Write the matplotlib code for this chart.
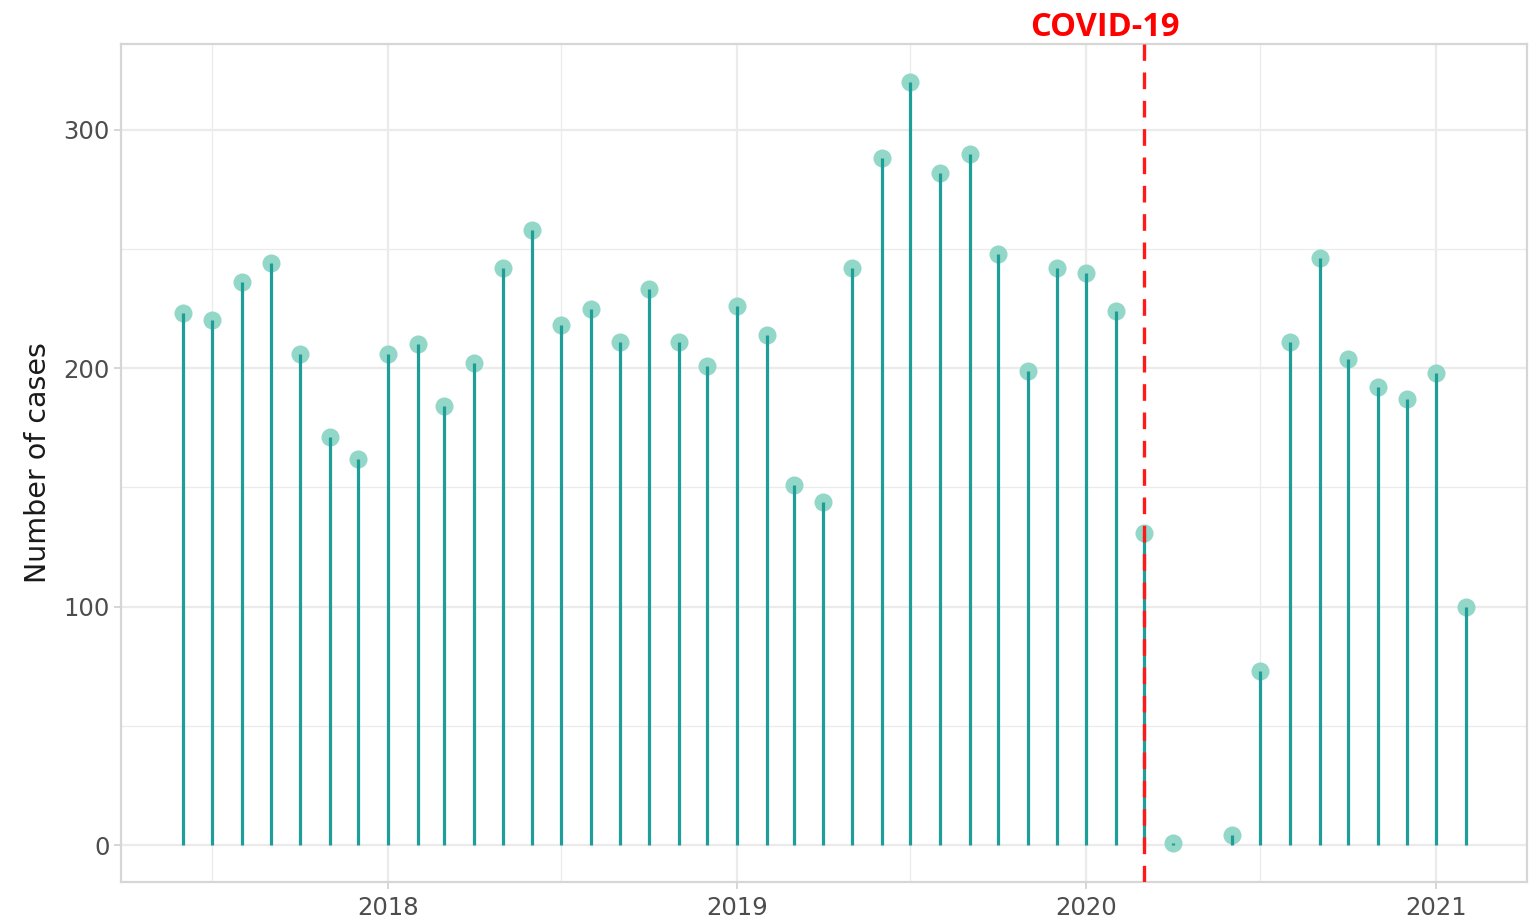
import datetime as dt

import matplotlib

matplotlib.use("Agg")
import matplotlib.dates as mdates
import matplotlib.pyplot as plt

# monthly case counts (first of month), 2017-06 .. 2021-02; 2020-05 has no data
MONTHS = [
    "2017-06", "2017-07", "2017-08", "2017-09", "2017-10", "2017-11", "2017-12",
    "2018-01", "2018-02", "2018-03", "2018-04", "2018-05", "2018-06",
    "2018-07", "2018-08", "2018-09", "2018-10", "2018-11", "2018-12",
    "2019-01", "2019-02", "2019-03", "2019-04", "2019-05", "2019-06",
    "2019-07", "2019-08", "2019-09", "2019-10", "2019-11", "2019-12",
    "2020-01", "2020-02", "2020-03", "2020-04", "2020-06",
    "2020-07", "2020-08", "2020-09", "2020-10", "2020-11", "2020-12",
    "2021-01", "2021-02",
]
CASES = [
    223, 220, 236, 244, 206, 171, 162,
    206, 210, 184, 202, 242, 258,
    218, 225, 211, 233, 211, 201,
    226, 214, 151, 144, 242, 288,
    320, 282, 290, 248, 199, 242,
    240, 224, 131, 1, 4,
    73, 211, 246, 204, 192, 187,
    198, 100,
]
COVID_START = "2020-03"
Y_TICKS = [0, 100, 200, 300]

STEM = "#1f9e99"
DOT = "#8dd5c5"
GRID = "#ebebeb"
BORDER = "#d6d6d6"


def to_date(s):
    y, m = s.split("-")
    return dt.date(int(y), int(m), 1)


def main():
    dates = [to_date(m) for m in MONTHS]

    fig = plt.figure(figsize=(15.37, 9.24), dpi=100)
    ax = fig.add_axes([0.0787, 0.0455, 0.915, 0.907])

    ax.vlines(dates, 0, CASES, color=STEM, lw=2.3, zorder=3)
    ax.plot(dates, CASES, "o", color=DOT, ms=13, mec="none", alpha=0.95, zorder=2)

    covid = to_date(COVID_START)
    ax.axvline(covid, color="#ff1a1a", lw=2.4, ls=(0, (5, 3.5)), zorder=4)
    ax.annotate("COVID-19", xy=(mdates.date2num(covid), 1.0),
                xycoords=ax.get_xaxis_transform(),
                xytext=(-28, 6), textcoords="offset points",
                ha="center", va="baseline", color="#ff0000", fontsize=23.5,
                fontweight="bold", family="Open Sans", annotation_clip=False)

    ax.set_xlim(dt.date(2017, 3, 28), dt.date(2021, 4, 6))
    ax.set_ylim(-15.5, 336)

    ax.xaxis.set_major_locator(mdates.YearLocator())
    ax.xaxis.set_major_formatter(mdates.DateFormatter("%Y"))
    ax.xaxis.set_minor_locator(mdates.MonthLocator(bymonth=7))
    ax.set_yticks(Y_TICKS)
    ax.set_yticks([50, 150, 250], minor=True)

    ax.grid(True, which="major", color=GRID, lw=1.6)
    ax.grid(True, which="minor", color=GRID, lw=0.9)
    ax.set_axisbelow(True)

    for sp in ax.spines.values():
        sp.set_color(BORDER)
        sp.set_linewidth(1.6)

    ax.tick_params(which="major", length=5, width=1.2, color="#cfcfcf",
                   labelsize=17.5, labelcolor="#4d4d4d")
    ax.tick_params(axis="x", pad=5)
    ax.tick_params(axis="y", pad=3)
    ax.tick_params(which="minor", length=0)
    ax.set_ylabel("Number of cases", fontsize=20.5, color="#1a1a1a", labelpad=8)

    fig.savefig("out.png", dpi=100)


if __name__ == "__main__":
    main()
